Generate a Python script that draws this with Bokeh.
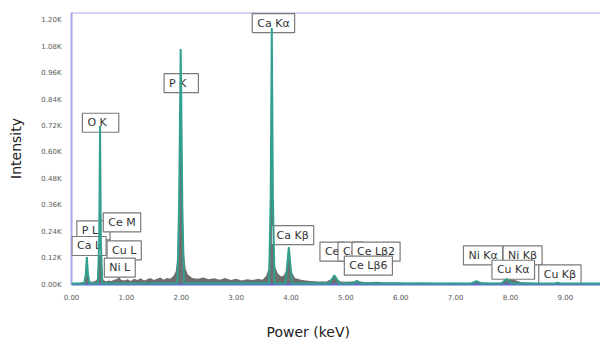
from bokeh.plotting import figure
from bokeh.models import Range1d, FixedTicker, Label, Span, Title
from bokeh.embed import file_html
from bokeh.resources import INLINE

# ---- data (energy in keV, intensity in counts) ----
spec_kev = [0.00, 0.08, 0.16, 0.23, 0.26, 0.28, 0.30, 0.33, 0.40, 0.46, 0.49, 0.505, 0.52, 0.535,
            0.55, 0.58, 0.63, 0.68, 0.72, 0.78, 0.84, 0.87, 0.90, 0.96, 1.02, 1.08, 1.14, 1.20,
            1.26, 1.32, 1.38, 1.44, 1.50, 1.56, 1.62, 1.68, 1.74, 1.80, 1.86, 1.90, 1.93, 1.95,
            1.97, 1.99, 2.01, 2.03, 2.05, 2.08, 2.12, 2.20, 2.30, 2.40, 2.50, 2.60, 2.70, 2.80,
            2.90, 3.00, 3.10, 3.20, 3.30, 3.40, 3.48, 3.55, 3.59, 3.62, 3.635, 3.65, 3.665, 3.68,
            3.71, 3.76, 3.82, 3.86, 3.91, 3.94, 3.96, 3.98, 4.01, 4.07, 4.20, 4.35, 4.50, 4.65,
            4.74, 4.79, 4.84, 4.90, 5.00, 5.12, 5.20, 5.28, 5.40, 5.55, 5.70, 5.90, 6.10, 6.40,
            6.70, 7.00, 7.25, 7.38, 7.50, 7.70, 7.85, 7.93, 8.02, 8.20, 8.50, 8.85, 8.95, 9.10,
            9.40, 9.64]
spec_cts = [0, 4, 8, 12, 50, 130, 50, 14, 12, 20, 100, 400, 720, 400,
            100, 22, 14, 18, 16, 22, 26, 35, 22, 18, 24, 16, 26, 20,
            28, 18, 24, 30, 20, 26, 32, 22, 30, 26, 40, 60, 120, 300,
            700, 1070, 700, 300, 140, 70, 45, 30, 26, 32, 24, 28, 22, 30,
            20, 26, 18, 24, 20, 26, 22, 40, 70, 200, 600, 1165, 600, 200,
            80, 50, 36, 40, 60, 130, 170, 130, 60, 30, 20, 16, 14, 14,
            26, 42, 26, 14, 12, 14, 18, 12, 10, 12, 9, 10, 8, 9,
            7, 8, 7, 12, 9, 7, 9, 20, 25, 10, 7, 6, 9, 6,
            5, 5]

fit_kev = [0.00, 0.23, 0.26, 0.28, 0.30, 0.33, 0.48, 0.505, 0.52, 0.535, 0.56, 1.93, 1.96,
           1.99, 2.02, 2.05, 3.60, 3.63, 3.65, 3.67, 3.70, 3.90, 3.935, 3.96, 3.985, 4.02,
           4.70, 4.79, 4.88, 5.12, 5.20, 5.28, 7.28, 7.38, 7.48, 7.83, 7.93, 8.03, 8.78,
           8.86, 8.94, 9.64]
fit_cts = [4, 4, 45, 125, 45, 4, 4, 200, 720, 200, 4, 6, 350,
           1070, 350, 6, 6, 400, 1165, 400, 6, 5, 100, 170, 100, 5,
           4, 42, 4, 4, 16, 4, 4, 15, 4, 4, 25, 4, 4,
           8, 4, 4]

x_ticks = [0, 1, 2, 3, 4, 5, 6, 7, 8, 9]
x_tick_labels = ["0.00", "1.00", "2.00", "3.00", "4.00", "5.00", "6.00", "7.00", "8.00", "9.00"]
y_ticks = [0, 120, 240, 360, 480, 600, 720, 840, 960, 1080, 1200]
y_tick_labels = ["0.00K", "0.12K", "0.24K", "0.36K", "0.48K", "0.60K", "0.72K", "0.84K",
                 "0.96K", "1.08K", "1.20K"]

peak_labels = ["Ca L", "P   L", "Ce M", "Cu L", "Ni L", "O   K", "P   K", "Ca Kα", "Ca Kβ",
               "Ce", "Ce", "Ce Lβ2", "Ce Lβ6", "Ni Kα", "Ni Kβ", "Cu Kα", "Cu Kβ"]
label_kev = [0.32, 0.40, 0.92, 0.96, 0.88, 0.53, 2.00, 3.68, 4.03,
             4.75, 5.08, 5.55, 5.41, 7.50, 8.22, 8.05, 8.90]
label_cts = [175, 246, 282, 155, 77, 735, 915, 1188, 224,
             149, 149, 149, 86, 132, 132, 67, 46]
label_order = [1, 0, 2, 3, 4, 5, 6, 7, 8, 9, 10, 11, 12, 13, 14, 15, 16]

FONT = "DejaVu Sans"

p = figure(width=600, height=340, output_backend="svg", toolbar_location=None,
           x_range=Range1d(0, 9.64), y_range=Range1d(0, 1236),
           min_border_left=71, min_border_right=0, min_border_top=12, min_border_bottom=56)
p.outline_line_color = None
p.grid.grid_line_color = None
p.background_fill_color = "white"
p.border_fill_color = "white"

p.varea(x=spec_kev, y1=0, y2=spec_cts, fill_color="#6e6e6e", fill_alpha=1.0)
p.line(fit_kev, fit_cts, line_color="#33a08f", line_width=2, level="overlay")

p.add_layout(Span(location=1236, dimension="width", line_color="#a8a8ee", line_width=2))

p.xaxis.ticker = FixedTicker(ticks=x_ticks)
p.xaxis.major_label_overrides = {t: l for t, l in zip(x_ticks, x_tick_labels)}
p.yaxis.ticker = FixedTicker(ticks=y_ticks)
p.yaxis.major_label_overrides = {t: l for t, l in zip(y_ticks, y_tick_labels)}

for ax in (p.xaxis[0], p.yaxis[0]):
    ax.major_tick_line_color = None
    ax.minor_tick_line_color = None
    ax.major_label_text_font = FONT
    ax.major_label_text_font_size = "7px"
    ax.major_label_text_color = "#5a5a5a"
    ax.axis_label_text_font = FONT
    ax.axis_label_text_font_style = "normal"
    ax.axis_label_text_font_size = "14px"
    ax.axis_label_text_color = "#222222"

p.xaxis.axis_line_color = "#5b6bd9"
p.xaxis.axis_line_width = 2
p.yaxis.axis_line_color = "#a8a8ee"
p.yaxis.axis_line_width = 2
p.xaxis.major_label_standoff = 3
p.yaxis.major_label_standoff = 4

p.yaxis.axis_label = "Intensity"
p.yaxis.axis_label_standoff = 14
# small blank spacer label under the ticks; the visible title sits below it
p.xaxis.axis_label = "\u00a0"
p.xaxis.axis_label_text_font_size = "6px"
p.xaxis.axis_label_standoff = 9
p.add_layout(Title(text="Power (keV)", align="left", offset=195, standoff=0,
                   text_font=FONT, text_font_style="normal", text_font_size="14px",
                   text_color="#222222"), "below")

for i in label_order:
    p.add_layout(Label(x=label_kev[i], y=label_cts[i], text=peak_labels[i],
                       text_align="center", text_baseline="middle",
                       text_font=FONT, text_font_size="11px", text_color="#333333",
                       background_fill_color="white", border_line_color="#7a7a7a",
                       border_line_width=1.2, padding=(5, 3)))

open("out.html", "w").write(file_html(p, INLINE))
